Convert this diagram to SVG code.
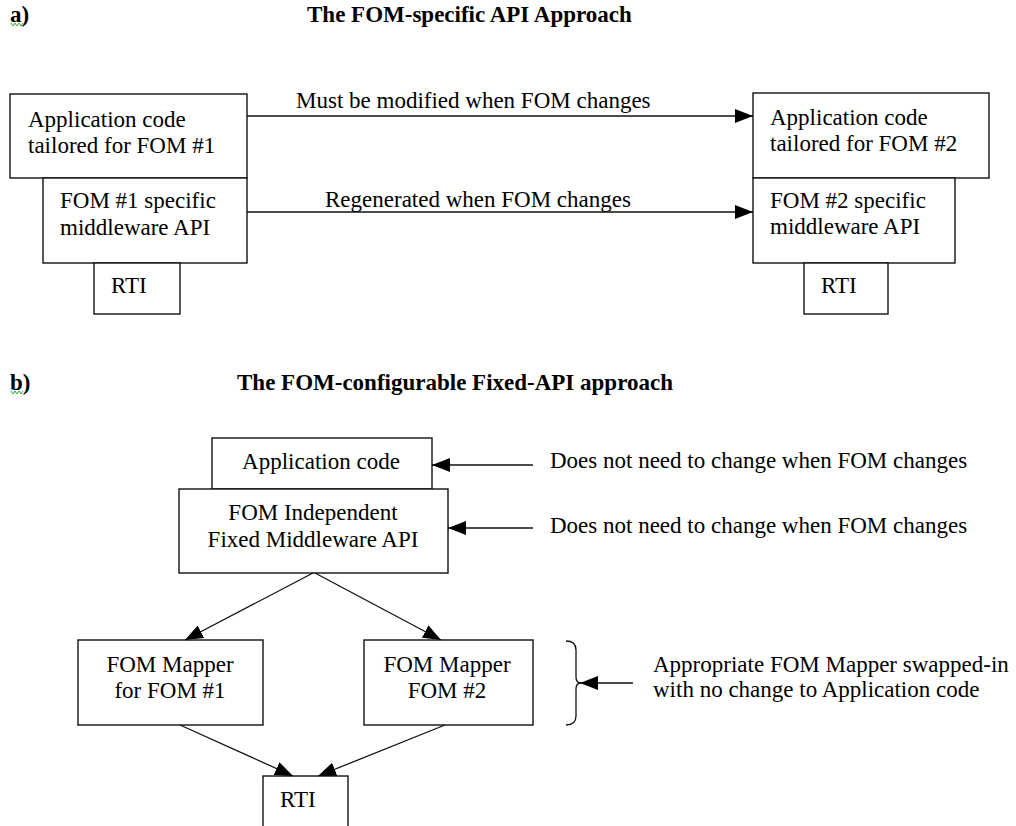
<svg xmlns="http://www.w3.org/2000/svg" width="1016" height="826" viewBox="0 0 1016 826">
<style>
  .box { fill: #fff; stroke: #111; stroke-width: 1.4; }
  .t { font-family: "Liberation Serif", "Times New Roman", serif; font-size: 23px; fill: #000; }
  .c { text-anchor: middle; }
  .title { font-family: "Liberation Serif", "Times New Roman", serif; font-size: 23px; font-weight: bold; fill: #000; }
  .conn { stroke: #111; stroke-width: 1.3; fill: none; }
  .sq { stroke: #3a3; stroke-width: 1; fill: none; }
</style>
<defs>
  <marker id="ah" markerUnits="userSpaceOnUse" viewBox="0 0 18 14" refX="18" refY="7" markerWidth="18" markerHeight="14" orient="auto">
    <path d="M0,0 L18,7 L0,14 z" fill="#000"/>
  </marker>
</defs>
<rect width="1016" height="826" fill="#fff"/>

<!-- Headings -->
<g id="heading-a">
  <text class="title" x="10" y="22">a)</text>
  <polyline class="sq" points="11,23 13,26 15,23 17,26 19,23 21,26 23,23"/>
  <text class="title" x="307" y="22">The FOM-specific API Approach</text>
</g>
<g id="heading-b">
  <text class="title" x="10" y="390">b)</text>
  <polyline class="sq" points="11,391 13,394 15,391 17,394 19,391 21,394 23,391"/>
  <text class="title" x="237" y="390">The FOM-configurable Fixed-API approach</text>
</g>

<!-- Part a, left stack -->
<g id="a-app1">
  <rect class="box" x="10" y="94" width="237" height="84"/>
  <text class="t" x="28" y="127">Application code</text>
  <text class="t" x="28" y="153">tailored for FOM #1</text>
</g>
<g id="a-api1">
  <rect class="box" x="43" y="178" width="204" height="85"/>
  <text class="t" x="60" y="208">FOM #1 specific</text>
  <text class="t" x="60" y="235">middleware API</text>
</g>
<g id="a-rti1">
  <rect class="box" x="94" y="263" width="86" height="51"/>
  <text class="t" x="111" y="293">RTI</text>
</g>

<!-- Part a, right stack -->
<g id="a-app2">
  <rect class="box" x="753" y="93" width="236" height="85"/>
  <text class="t" x="770" y="125">Application code</text>
  <text class="t" x="770" y="151">tailored for FOM #2</text>
</g>
<g id="a-api2">
  <rect class="box" x="753" y="178" width="202" height="85"/>
  <text class="t" x="770" y="208">FOM #2 specific</text>
  <text class="t" x="770" y="234">middleware API</text>
</g>
<g id="a-rti2">
  <rect class="box" x="804" y="263" width="84" height="51"/>
  <text class="t" x="821" y="293">RTI</text>
</g>

<!-- Part b nodes -->
<g id="b-app">
  <rect class="box" x="212" y="438" width="220" height="51"/>
  <text class="t c" x="321" y="469">Application code</text>
</g>
<g id="b-api">
  <rect class="box" x="179" y="489" width="269" height="84"/>
  <text class="t c" x="313" y="520">FOM Independent</text>
  <text class="t c" x="313" y="547">Fixed Middleware API</text>
</g>
<g id="b-mapper1">
  <rect class="box" x="78" y="640" width="185" height="85"/>
  <text class="t c" x="170" y="672">FOM Mapper</text>
  <text class="t c" x="170" y="698">for FOM #1</text>
</g>
<g id="b-mapper2">
  <rect class="box" x="364" y="640" width="169" height="85"/>
  <text class="t c" x="447" y="672">FOM Mapper</text>
  <text class="t c" x="447" y="698">FOM #2</text>
</g>
<g id="b-rti">
  <rect class="box" x="263" y="776" width="85" height="60"/>
  <text class="t" x="280" y="807">RTI</text>
</g>

<!-- Annotations part b -->
<g id="b-notes">
  <text class="t" x="550" y="468">Does not need to change when FOM changes</text>
  <text class="t" x="550" y="533">Does not need to change when FOM changes</text>
  <text class="t" x="653" y="672">Appropriate FOM Mapper swapped-in</text>
  <text class="t" x="653" y="697">with no change to Application code</text>
  <path class="conn" d="M566,641 Q576,641 576,650 L576,677 Q576,683 581,683 Q576,683 576,689 L576,716 Q576,725 566,725"/>
</g>

<!-- Connectors -->
<g id="connectors">
  <line class="conn" x1="247" y1="116" x2="753" y2="116" marker-end="url(#ah)"/>
  <text class="t" x="296" y="108">Must be modified when FOM changes</text>
  <line class="conn" x1="247" y1="212" x2="753" y2="212" marker-end="url(#ah)"/>
  <text class="t" x="325" y="207">Regenerated when FOM changes</text>

  <line class="conn" x1="533" y1="465" x2="432" y2="465" marker-end="url(#ah)"/>
  <line class="conn" x1="533" y1="528" x2="448" y2="528" marker-end="url(#ah)"/>
  <line class="conn" x1="633" y1="683" x2="580" y2="683" marker-end="url(#ah)"/>

  <line class="conn" x1="313" y1="573" x2="185" y2="640" marker-end="url(#ah)"/>
  <line class="conn" x1="315" y1="573" x2="441" y2="640" marker-end="url(#ah)"/>
  <line class="conn" x1="180" y1="725" x2="293" y2="776" marker-end="url(#ah)"/>
  <line class="conn" x1="445" y1="725" x2="318" y2="776" marker-end="url(#ah)"/>
</g>
</svg>
